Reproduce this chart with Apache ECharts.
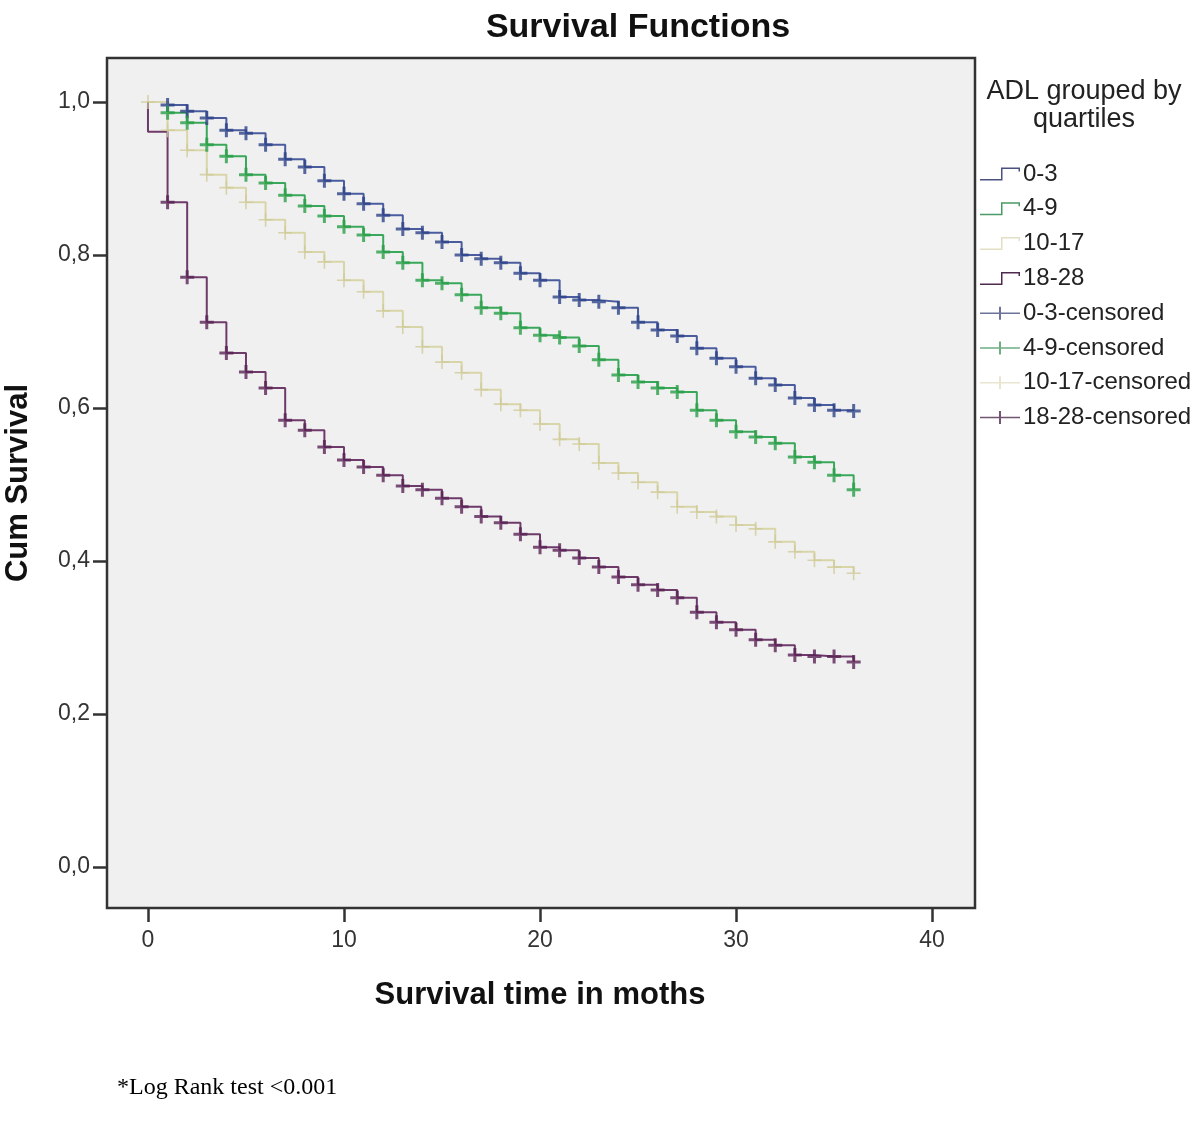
<!DOCTYPE html>
<html>
<head>
<meta charset="utf-8">
<script src="https://cdn.jsdelivr.net/npm/echarts@6/dist/echarts.min.js"></script>
<style>
html,body{margin:0;padding:0;background:#fff;}
#chart{width:1200px;height:1121px;}
</style>
</head>
<body>
<div id="chart"></div>
<script>
// ---- Data ----
var months = [0,1,2,3,4,5,6,7,8,9,10,11,12,13,14,15,16,17,18,19,20,21,22,23,24,25,26,27,28,29,30,31,32,33,34,35,36];
var groupNames = ['0-3','4-9','10-17','18-28'];
var survival_0_3 = [1.000,0.996,0.988,0.979,0.963,0.959,0.944,0.925,0.915,0.897,0.880,0.867,0.852,0.834,0.829,0.817,0.800,0.795,0.790,0.776,0.767,0.745,0.741,0.739,0.731,0.712,0.702,0.694,0.678,0.665,0.654,0.639,0.630,0.613,0.604,0.597,0.596];
var survival_4_9 = [1.000,0.986,0.973,0.944,0.929,0.905,0.894,0.878,0.864,0.851,0.837,0.826,0.804,0.790,0.767,0.763,0.748,0.731,0.724,0.705,0.695,0.692,0.681,0.663,0.643,0.634,0.626,0.621,0.597,0.584,0.569,0.562,0.554,0.536,0.529,0.512,0.493];
var survival_10_17 = [1.000,0.963,0.937,0.905,0.888,0.869,0.846,0.829,0.804,0.791,0.767,0.752,0.727,0.706,0.680,0.660,0.646,0.624,0.605,0.597,0.579,0.559,0.553,0.528,0.515,0.503,0.490,0.471,0.464,0.458,0.447,0.442,0.425,0.412,0.401,0.392,0.384];
var survival_18_28 = [0.961,0.869,0.771,0.712,0.672,0.647,0.626,0.584,0.571,0.549,0.532,0.523,0.512,0.498,0.493,0.482,0.471,0.458,0.450,0.435,0.418,0.414,0.404,0.392,0.379,0.369,0.362,0.352,0.333,0.320,0.310,0.297,0.290,0.277,0.275,0.275,0.268];
var startSurvival = 1.0;
// first month carrying a censoring mark, per group
var firstCensorMonth = [1,1,0,1];
var xTicks = [0,10,20,30,40];
var yTicks = [0,0.2,0.4,0.6,0.8,1.0];

// ---- Styling ----
var lineColors = ['#4a5c9e','#3aa85a','#d8d5a8','#6d3a6a'];
var markColors = ['#2e4388','#2a9f48','#cfcb98','#5a2355'];
var legendColors = ['#4a5080','#4a9a66','#e2dfc4','#4e2a4e'];
var FONT = 'Liberation Sans, Arial, sans-serif';

var plusPath = 'path://M0,5.5 L5.5,5.5 L5.5,0 L8.5,0 L8.5,5.5 L14,5.5 L14,8.5 L8.5,8.5 L8.5,14 L5.5,14 L5.5,8.5 L0,8.5 Z';
var plusThinPath = 'path://M0,6.2 L6.2,6.2 L6.2,0 L7.8,0 L7.8,6.2 L14,6.2 L14,7.8 L7.8,7.8 L7.8,14 L6.2,14 L6.2,7.8 L0,7.8 Z';
var stepIcon = 'path://M0,11.5 L21,11.5 L21,0 L40,0 L40,4 L38.5,4 L38.5,1.5 L22.5,1.5 L22.5,13 L0,13 Z';
var censorIcon = 'path://M0,5.75 L19,5.75 L19,0 L21,0 L21,5.75 L40,5.75 L40,7.25 L21,7.25 L21,13 L19,13 L19,7.25 L0,7.25 Z';

var allSurv = [survival_0_3, survival_4_9, survival_10_17, survival_18_28];

var series = [];
var legendData = [];
groupNames.forEach(function (name, gi) {
  var vals = allSurv[gi];
  var lineData = [[months[0], startSurvival]];
  months.forEach(function (m, i) { lineData.push([m, vals[i]]); });
  series.push({
    name: name, type: 'line', step: 'end', data: lineData,
    symbol: 'none', showSymbol: false, silent: true,
    lineStyle: {color: lineColors[gi], width: 2},
    itemStyle: {color: legendColors[gi]},
    z: 2
  });
  legendData.push({name: name, icon: stepIcon, itemStyle: {color: legendColors[gi]}});
});
groupNames.forEach(function (name, gi) {
  var vals = allSurv[gi];
  var pts = [];
  months.forEach(function (m, i) {
    if (m >= firstCensorMonth[gi]) pts.push([m, m === 0 ? startSurvival : vals[i]]);
  });
  series.push({
    name: name + '-censored', type: 'scatter', data: pts,
    symbol: gi === 2 ? plusThinPath : plusPath, symbolSize: 14, silent: true,
    itemStyle: {color: markColors[gi]},
    z: 3
  });
  legendData.push({name: name + '-censored', icon: censorIcon, itemStyle: {color: legendColors[gi]}});
});

var chart = echarts.init(document.getElementById('chart'), null, {renderer: 'canvas'});
chart.setOption({
  animation: false,
  backgroundColor: '#ffffff',
  grid: {
    left: 107, right: 225, top: 58, bottom: 213,
    show: true, backgroundColor: '#f0f0f0', borderColor: '#333333', borderWidth: 2.5
  },
  xAxis: {
    type: 'value', min: -2.09, max: 42.19,
    splitLine: {show: false},
    axisLine: {show: false, onZero: false},
    axisTick: {show: true, customValues: xTicks, length: 14, lineStyle: {color: '#333', width: 2.5}},
    axisLabel: {customValues: xTicks, fontSize: 23, color: '#333', fontFamily: FONT, margin: 21}
  },
  yAxis: {
    type: 'value', min: -0.0536, max: 1.0575,
    splitLine: {show: false},
    axisLine: {show: false, onZero: false},
    axisTick: {show: true, customValues: yTicks, length: 14, lineStyle: {color: '#333', width: 2.5}},
    axisLabel: {customValues: yTicks, fontSize: 23, color: '#333', fontFamily: FONT, margin: 17,
      formatter: function (v) { return v.toFixed(1).replace('.', ','); }}
  },
  legend: {
    orient: 'vertical', left: 975, top: 157,
    itemWidth: 40, itemHeight: 13, itemGap: 10.8,
    data: legendData,
    selectedMode: false,
    textStyle: {fontSize: 24, lineHeight: 24, color: '#222', fontFamily: FONT, padding: [0,0,0,-2]}
  },
  graphic: [
    {type: 'text', x: 638, y: 28, style: {text: 'Survival Functions', fontSize: 34, fontWeight: 'bold', fontFamily: FONT, fill: '#111', textAlign: 'center', textVerticalAlign: 'middle'}},
    {type: 'text', x: 1084, y: 106, style: {text: 'ADL grouped by\nquartiles', fontSize: 27, lineHeight: 28, fontFamily: FONT, fill: '#222', textAlign: 'center', textVerticalAlign: 'middle'}},
    {type: 'text', x: 540, y: 995, style: {text: 'Survival time in moths', fontSize: 31, fontWeight: 'bold', fontFamily: FONT, fill: '#111', textAlign: 'center', textVerticalAlign: 'middle'}},
    {type: 'text', x: 18, y: 483, rotation: Math.PI / 2, style: {text: 'Cum Survival', fontSize: 31, fontWeight: 'bold', fontFamily: FONT, fill: '#111', textAlign: 'center', textVerticalAlign: 'middle'}},
    {type: 'text', x: 117, y: 1088, style: {text: '*Log Rank test <0.001', fontSize: 24, fontFamily: 'Liberation Serif, Times New Roman, serif', fill: '#000', textAlign: 'left', textVerticalAlign: 'middle'}}
  ],
  series: series
});
</script>
</body>
</html>
